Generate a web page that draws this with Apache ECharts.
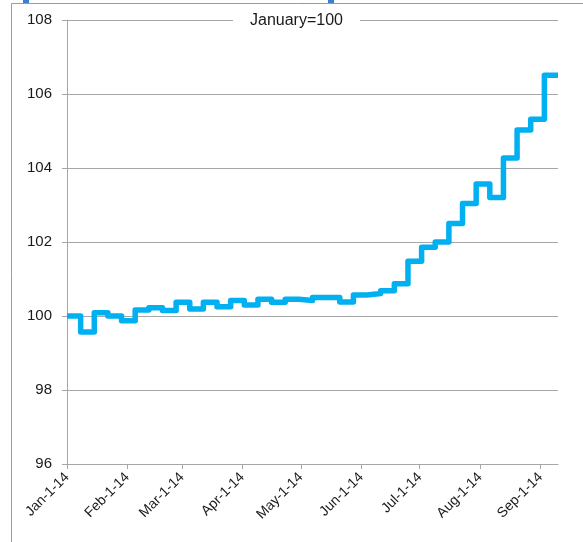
<!DOCTYPE html>
<html>
<head>
<meta charset="utf-8">
<script src="https://cdn.jsdelivr.net/npm/echarts@6/dist/echarts.min.js"></script>
<style>
html,body{margin:0;padding:0;background:#fff;}
#chart{width:583px;height:542px;}
</style>
</head>
<body>
<div id="chart"></div>
<script>
// Week start dates (weekly observations)
const weekStarts = [
  '2014-01-01','2014-01-08','2014-01-15','2014-01-22','2014-01-29',
  '2014-02-05','2014-02-12','2014-02-19','2014-02-26',
  '2014-03-05','2014-03-12','2014-03-19','2014-03-26',
  '2014-04-02','2014-04-09','2014-04-16','2014-04-23','2014-04-30',
  '2014-05-07','2014-05-14','2014-05-21','2014-05-28',
  '2014-06-04','2014-06-11','2014-06-18','2014-06-25',
  '2014-07-02','2014-07-09','2014-07-16','2014-07-23','2014-07-30',
  '2014-08-06','2014-08-13','2014-08-20','2014-08-27',
  '2014-09-03'
];
const lastWeekEnd = '2014-09-10';
// Index values, January = 100
const indexValues = [
  100.00, 99.57, 100.09, 100.00, 99.87,
  100.16, 100.22, 100.15, 100.37,
  100.19, 100.37, 100.25, 100.42,
  100.30, 100.45, 100.37, 100.45, 100.42,
  100.50, 100.50, 100.38, 100.57,
  100.61, 100.68, 100.87, 101.48,
  101.86, 102.00, 102.50, 103.04, 103.57,
  103.20, 104.27, 105.03, 105.32,
  106.51
];
// Month tick dates and labels
const monthTicks = ['2014-01-01','2014-02-01','2014-03-01','2014-04-01','2014-05-01','2014-06-01','2014-07-01','2014-08-01','2014-09-01'];
const monthLabels = ['Jan-1-14','Feb-1-14','Mar-1-14','Apr-1-14','May-1-14','Jun-1-14','Jul-1-14','Aug-1-14','Sep-1-14'];
const yTicks = [96, 98, 100, 102, 104, 106, 108];
const titleText = 'January=100';

const DAY = 86400000;
const t0 = Date.UTC(2014,0,1);
const toDay = s => { const p = s.split('-'); return Math.round((Date.UTC(+p[0], +p[1]-1, +p[2]) - t0)/DAY); };
const tickDays = monthTicks.map(toDay);
const labelByDay = {};
tickDays.forEach((t,i)=>{ labelByDay[t] = monthLabels[i]; });

const seriesData = weekStarts.map((d,i)=>[toDay(d), indexValues[i]])
  .concat([[toDay(lastWeekEnd), indexValues[indexValues.length-1]]]);

const FONT = 'Liberation Sans';
const chart = echarts.init(document.getElementById('chart'), null, {renderer:'canvas'});
chart.setOption({
  animation:false,
  backgroundColor:'#fff',
  title:{
    text:titleText,
    left:233, top:13,
    backgroundColor:'#fff',
    padding:[0,17,0,17],
    textStyle:{fontFamily:FONT, fontSize:16, fontWeight:'normal', color:'#1a1a1a'}
  },
  grid:{left:67, top:20, right:25, bottom:78, containLabel:false},
  xAxis:{
    type:'value',
    min:toDay(weekStarts[0]),
    max:toDay(lastWeekEnd),
    axisLine:{show:true, lineStyle:{color:'#a6a6a6', width:1}},
    axisTick:{show:true, length:5, customValues:tickDays, lineStyle:{color:'#a6a6a6'}},
    splitLine:{show:false},
    axisLabel:{
      customValues:tickDays,
      rotate:45, margin:11,
      fontFamily:FONT, fontSize:14, color:'#1a1a1a',
      formatter: v => labelByDay[v] || ''
    }
  },
  yAxis:{
    type:'value',
    min:yTicks[0], max:yTicks[yTicks.length-1], interval:2,
    axisLine:{show:true, lineStyle:{color:'#a6a6a6', width:1}},
    axisTick:{show:true, length:5, lineStyle:{color:'#a6a6a6'}},
    splitLine:{show:true, lineStyle:{color:'#a6a6a6', width:1}},
    axisLabel:{margin:15, fontFamily:FONT, fontSize:15, color:'#1a1a1a'}
  },
  graphic:[
    {type:'rect', silent:true, z:-10, shape:{x:11.5, y:3.5, width:700, height:700},
     style:{fill:'none', stroke:'#9a9a9a', lineWidth:1}},
    {type:'rect', silent:true, shape:{x:23, y:0, width:6, height:3}, style:{fill:'#3c7fd1'}},
    {type:'rect', silent:true, shape:{x:328, y:0, width:6, height:3}, style:{fill:'#3c7fd1'}}
  ],
  series:[{
    type:'line',
    step:'end',
    data:seriesData,
    symbol:'none',
    lineStyle:{color:'#00b0f0', width:5.5, join:'round', cap:'butt'},
    z:5
  }]
});
</script>
</body>
</html>
